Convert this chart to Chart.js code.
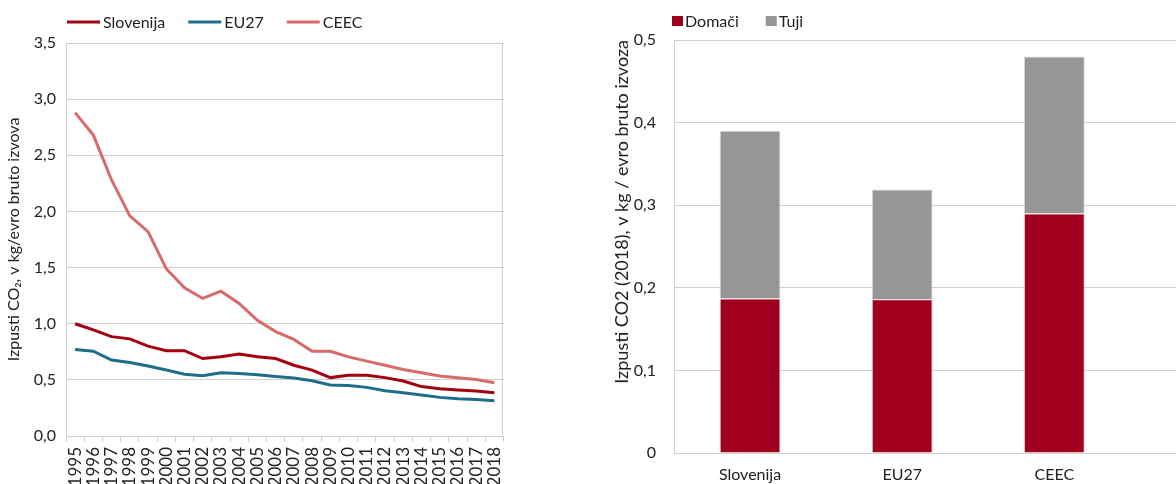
<!DOCTYPE html>
<html>
<head>
<meta charset="utf-8">
<script src="https://cdn.jsdelivr.net/npm/chart.js@4/dist/chart.umd.min.js"></script>
<style>
  html, body { margin: 0; padding: 0; background: #fff; overflow: hidden; }
  #wrap { position: relative; width: 1176px; height: 484px; overflow: hidden; }
  canvas { position: absolute; top: 0; }
  #trend { left: 0; }
  #origin { left: 600px; }
</style>
</head>
<body>
<div id="wrap">
  <canvas id="trend" width="520" height="484"></canvas>
  <canvas id="origin" width="576" height="484"></canvas>
</div>
<script>
// CO2 intensity of gross exports, 1995-2018 (kg per euro)
const years = ['1995', '1996', '1997', '1998', '1999', '2000', '2001', '2002', '2003', '2004', '2005', '2006',
               '2007', '2008', '2009', '2010', '2011', '2012', '2013', '2014', '2015', '2016', '2017', '2018'];
const slovenija = [1.00, 0.945, 0.885, 0.865, 0.80, 0.76, 0.76, 0.69, 0.705, 0.73, 0.705, 0.69,
                   0.63, 0.587, 0.52, 0.54, 0.54, 0.52, 0.49, 0.44, 0.42, 0.41, 0.40, 0.385];
const eu27 = [0.77, 0.755, 0.677, 0.655, 0.623, 0.587, 0.55, 0.537, 0.563, 0.557, 0.545, 0.53,
              0.516, 0.492, 0.454, 0.45, 0.433, 0.403, 0.385, 0.365, 0.344, 0.332, 0.326, 0.314];
const ceec = [2.88, 2.68, 2.28, 1.96, 1.82, 1.49, 1.32, 1.225, 1.29, 1.18, 1.03, 0.93,
              0.86, 0.755, 0.755, 0.705, 0.667, 0.63, 0.593, 0.563, 0.534, 0.519, 0.504, 0.474];
const trendTicks = ['0,0', '0,5', '1,0', '1,5', '2,0', '2,5', '3,0', '3,5'];

// 2018 split into domestic and foreign content
const regions = ['Slovenija', 'EU27', 'CEEC'];
const domaci = [0.187, 0.186, 0.290];
const tuji = [0.203, 0.133, 0.190];
const originTicks = ['0', '0,1', '0,2', '0,3', '0,4', '0,5'];

const TEXT = '#222222';
const GRID = '#cfcfcf';
Chart.defaults.font.family = 'Lato, "Open Sans", sans-serif';
Chart.defaults.font.size = 16;
Chart.defaults.color = TEXT;

// One-row legend drawn straight from the datasets
const legendRow = {
  id: 'legendRow',
  afterDraw(chart, args, o) {
    const ctx = chart.ctx;
    ctx.save();
    ctx.font = '16px ' + Chart.defaults.font.family;
    ctx.textBaseline = 'middle';
    let x = o.x;
    chart.data.datasets.forEach(ds => {
      ctx.fillStyle = o.swatch === 'line' ? ds.borderColor : ds.backgroundColor;
      ctx.fillRect(x, o.y - o.h / 2, o.w, o.h);
      ctx.fillStyle = TEXT;
      ctx.fillText(ds.label, x + o.w + o.gap, o.y + 1);
      x += o.w + o.gap + ctx.measureText(ds.label).width + o.spacing;
    });
    ctx.restore();
  }
};

// Thin frame around the plot area
const plotFrame = {
  id: 'plotFrame',
  beforeDatasetsDraw(chart) {
    const { ctx, chartArea: a } = chart;
    ctx.save();
    ctx.strokeStyle = GRID;
    ctx.lineWidth = 1;
    ctx.strokeRect(Math.round(a.left) + 0.5, Math.round(a.top) + 0.5,
                   Math.round(a.right - a.left) - 1, Math.round(a.bottom - a.top));
    ctx.restore();
  }
};

function lineSet(label, data, color) {
  return { label, data, borderColor: color, backgroundColor: color, borderWidth: 3,
           pointRadius: 0, pointHoverRadius: 0, tension: 0, fill: false };
}

new Chart(document.getElementById('trend'), {
  type: 'line',
  data: {
    labels: years,
    datasets: [
      lineSet('Slovenija', slovenija, '#a30010'),
      lineSet('EU27', eu27, '#1e6e8a'),
      lineSet('CEEC', ceec, '#d96a6a')
    ]
  },
  plugins: [legendRow, plotFrame],
  options: {
    responsive: false,
    animation: false,
    layout: { padding: { top: 43, right: 11, left: 0, bottom: 0 } },
    plugins: {
      legend: { display: false },
      tooltip: { enabled: false },
      legendRow: { x: 67, y: 22, w: 33, h: 3, gap: 3, spacing: 23, swatch: 'line' }
    },
    scales: {
      x: {
        type: 'category',
        offset: true,
        grid: { offset: true, drawOnChartArea: false, drawTicks: true, tickLength: 6, color: GRID },
        border: { color: GRID },
        ticks: { minRotation: 90, maxRotation: 90, padding: 5, autoSkip: false, color: TEXT,
                 font: { size: 17 } },
        afterFit(s) { s.height = 48; }
      },
      y: {
        min: 0, max: 3.5,
        ticks: { stepSize: 0.5, padding: 10, color: TEXT, callback: (v, i) => trendTicks[i] },
        grid: { color: GRID, drawTicks: false },
        border: { color: GRID },
        title: { display: true, text: 'Izpusti CO₂, v kg/evro bruto izvova', color: TEXT,
                 font: { size: 16 }, padding: { top: 4, bottom: 4 } },
        afterFit(s) { s.width = 66; }
      }
    }
  }
});

new Chart(document.getElementById('origin'), {
  type: 'bar',
  data: {
    datasets: [
      { label: 'Domači', data: domaci.map((v, i) => ({ x: i, y: v })), backgroundColor: '#a0001e',
        borderColor: '#d8d8d8', borderWidth: 1, stack: 'total' },
      { label: 'Tuji', data: tuji.map((v, i) => ({ x: i, y: v })), backgroundColor: '#969696',
        borderColor: '#d8d8d8', borderWidth: 1, stack: 'total' }
    ]
  },
  plugins: [legendRow],
  options: {
    responsive: false,
    animation: false,
    categoryPercentage: 1,
    barPercentage: 0.4,
    layout: { padding: { top: 40, right: 0, left: 0, bottom: 0 } },
    plugins: {
      legend: { display: false },
      tooltip: { enabled: false },
      legendRow: { x: 72, y: 21, w: 11, h: 10, gap: 2, spacing: 27, swatch: 'box' }
    },
    scales: {
      x: {
        type: 'linear',
        offset: false,
        min: -0.5, max: 2.8,
        grid: { display: false },
        border: { display: false },
        afterBuildTicks(s) { s.ticks = regions.map((_, i) => ({ value: i })); },
        ticks: { padding: 4, color: TEXT, maxRotation: 0, callback: v => regions[v] },
        afterFit(s) { s.height = 31; }
      },
      y: {
        stacked: true,
        min: 0, max: 0.5,
        ticks: { stepSize: 0.1, padding: 18, color: TEXT, callback: (v, i) => originTicks[i] },
        grid: { color: GRID, drawTicks: false },
        border: { color: GRID },
        title: { display: true, align: 'end', text: 'Izpusti CO2 (2018), v kg / evro bruto izvoza',
                 color: TEXT, font: { size: 18 }, padding: { top: 11, bottom: 4 } },
        afterFit(s) { s.width = 74; }
      }
    }
  }
});
</script>
</body>
</html>
